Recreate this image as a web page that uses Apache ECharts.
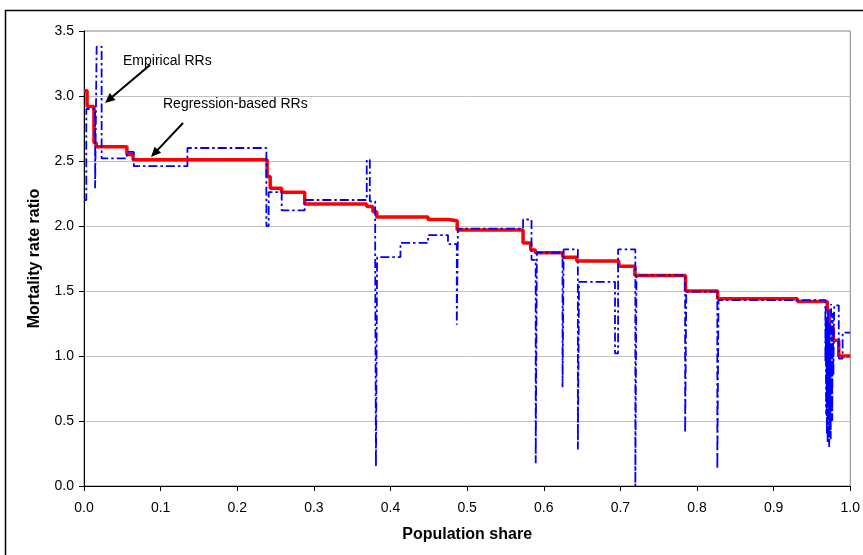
<!DOCTYPE html>
<html>
<head>
<meta charset="utf-8">
<script src="https://cdn.jsdelivr.net/npm/echarts@6/dist/echarts.min.js"></script>
<style>
html,body{margin:0;padding:0;background:#fff;}
#chart{width:863px;height:555px;}
</style>
</head>
<body>
<div id="chart"></div>
<script>
// Step points: [population share where value starts, mortality rate ratio]
var regressionRR = [
  [0.000, 3.04], [0.004, 2.92], [0.013, 2.64], [0.016, 2.61], [0.056, 2.55], [0.064, 2.51],
  [0.239, 2.38], [0.243, 2.29], [0.258, 2.26], [0.288, 2.17], [0.369, 2.15], [0.377, 2.11],
  [0.382, 2.07], [0.449, 2.05], [0.475, 2.04], [0.487, 1.97], [0.573, 1.87], [0.583, 1.815],
  [0.589, 1.795], [0.625, 1.76], [0.643, 1.73], [0.698, 1.69], [0.719, 1.62], [0.785, 1.50],
  [0.827, 1.44], [0.931, 1.42], [0.970, 1.35], [0.973, 1.22], [0.978, 1.12], [0.985, 1.00],
  [1.000, 1.00]
];
var empiricalRR = [
  [0.000, 2.20], [0.003, 2.90], [0.0145, 2.29], [0.0165, 3.38], [0.023, 2.52], [0.056, 2.57],
  [0.065, 2.46], [0.135, 2.60], [0.238, 2.00], [0.241, 2.26], [0.258, 2.12], [0.288, 2.20],
  [0.369, 2.51], [0.373, 2.19], [0.380, 1.76], [0.381, 0.15], [0.3825, 1.76], [0.413, 1.87],
  [0.449, 1.93], [0.475, 1.86], [0.4865, 1.24], [0.488, 1.98], [0.573, 2.05], [0.584, 1.74],
  [0.5895, 0.175], [0.591, 1.795], [0.6245, 0.76], [0.626, 1.82], [0.6445, 0.28], [0.646, 1.57],
  [0.693, 1.02], [0.697, 1.82], [0.7195, 0.00], [0.721, 1.62], [0.7845, 0.41], [0.786, 1.495],
  [0.8265, 0.13], [0.828, 1.43], [0.9675, 0.95], [0.968, 1.38], [0.9685, 0.55], [0.969, 1.30],
  [0.9695, 0.40], [0.970, 1.20], [0.9705, 0.33], [0.971, 1.35], [0.9715, 0.62], [0.972, 1.10],
  [0.9725, 0.30], [0.973, 1.25], [0.9735, 0.45], [0.974, 1.05], [0.9745, 0.36], [0.975, 1.40],
  [0.9755, 0.70], [0.976, 1.15], [0.9765, 0.50], [0.977, 1.33], [0.978, 0.85], [0.979, 1.39],
  [0.985, 0.98], [0.990, 1.18], [1.000, 1.18]
];
var xTicks = [0, 0.1, 0.2, 0.3, 0.4, 0.5, 0.6, 0.7, 0.8, 0.9, 1.0];
var yTicks = [0, 0.5, 1.0, 1.5, 2.0, 2.5, 3.0, 3.5];
var seriesNames = ['Regression-based RRs', 'Empirical RRs'];
var xTitle = 'Population share';
var yTitle = 'Mortality rate ratio';

var FONT = "'Liberation Sans', Arial, sans-serif";

function arrow(x1, y1, x2, y2) {
  var dx = x2 - x1, dy = y2 - y1, L = Math.sqrt(dx * dx + dy * dy);
  var ux = dx / L, uy = dy / L, hl = 10, hw = 4.5;
  var bx = x2 - ux * hl, by = y2 - uy * hl;
  return [
    { type: 'line', shape: { x1: x1, y1: y1, x2: bx + ux * 2, y2: by + uy * 2 },
      style: { stroke: '#000', lineWidth: 2 }, z: 100 },
    { type: 'polygon', shape: { points: [[x2, y2], [bx - uy * hw, by + ux * hw], [bx + uy * hw, by - ux * hw]] },
      style: { fill: '#000' }, z: 100 }
  ];
}

var chart = echarts.init(document.getElementById('chart'), null, { renderer: 'canvas' });
var graphics = [
  { type: 'rect', shape: { x: 5.5, y: 10.5, width: 900, height: 600 },
    style: { fill: 'none', stroke: '#000', lineWidth: 1.5 }, z: -10 },
  { type: 'text', left: 123, top: 54, style: { text: seriesNames[1], font: '14px ' + FONT, fill: '#000' }, z: 100 },
  { type: 'text', left: 163, top: 97, style: { text: seriesNames[0], font: '14px ' + FONT, fill: '#000' }, z: 100 }
].concat(arrow(150, 65, 105, 103)).concat(arrow(183, 123, 151, 157));

chart.setOption({
  animation: false,
  backgroundColor: '#fff',
  grid: { left: 84, right: 8, top: 31, bottom: 69, show: true, borderColor: '#808080', borderWidth: 1, backgroundColor: 'transparent' },
  xAxis: {
    type: 'value', min: xTicks[0], max: xTicks[xTicks.length - 1], interval: 0.1,
    name: xTitle, nameLocation: 'middle', nameGap: 41,
    nameTextStyle: { fontFamily: FONT, fontSize: 16, fontWeight: 'bold', color: '#000' },
    axisLine: { lineStyle: { color: '#000', width: 1 } },
    axisTick: { show: true, length: 5, lineStyle: { color: '#000' } },
    axisLabel: { fontFamily: FONT, fontSize: 14, color: '#000', margin: 15, formatter: function (v) { return v.toFixed(1); } },
    splitLine: { show: false }
  },
  yAxis: {
    type: 'value', min: yTicks[0], max: yTicks[yTicks.length - 1], interval: 0.5,
    name: yTitle, nameLocation: 'middle', nameGap: 41,
    nameTextStyle: { fontFamily: FONT, fontSize: 16, fontWeight: 'bold', color: '#000' },
    axisLine: { show: true, lineStyle: { color: '#000', width: 1 } },
    axisTick: { show: true, length: 5, lineStyle: { color: '#000' } },
    axisLabel: { fontFamily: FONT, fontSize: 14, color: '#000', margin: 10, formatter: function (v) { return v.toFixed(1); } },
    splitLine: { show: true, lineStyle: { color: '#c0c0c0', width: 1 } }
  },
  series: [
    { name: seriesNames[0], type: 'line', step: 'end', data: regressionRR, showSymbol: false, symbol: 'none',
      lineStyle: { color: '#ff0000', width: 3.5 }, z: 2 },
    { name: seriesNames[1], type: 'line', step: 'end', data: empiricalRR, showSymbol: false, symbol: 'none',
      lineStyle: { color: '#0000ff', width: 1.8, type: [9, 3, 2.5, 3] }, z: 3 }
  ],
  graphic: graphics
});
</script>
</body>
</html>
